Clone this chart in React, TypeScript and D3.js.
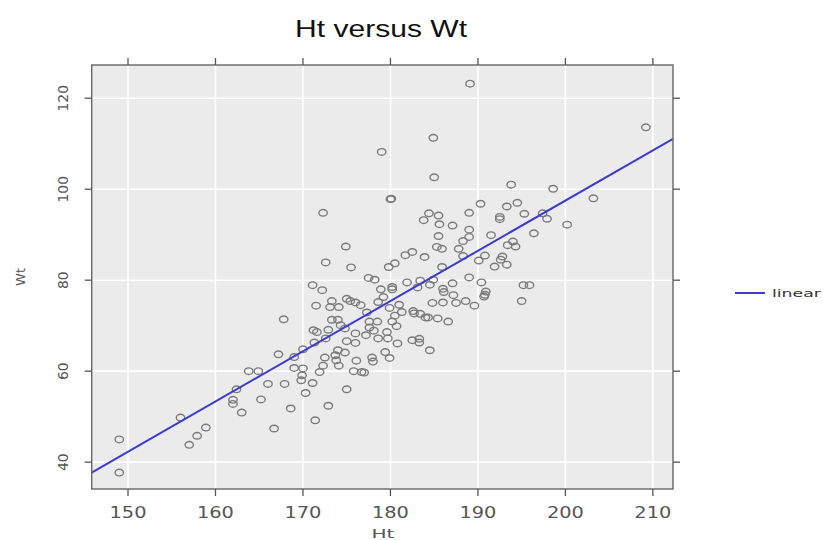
import React from "react";
import * as d3 from "d3";

const xTicks = [150, 160, 170, 180, 190, 200, 210];
const yTicks = [40, 60, 80, 100, 120];

const ht = [
  189.1, 209.2, 184.9, 179.0, 185.0, 193.8, 198.6, 180.0, 180.1, 203.2,
  190.3, 194.5, 193.3, 172.3, 184.4, 185.5, 189.0, 195.3, 197.4, 183.8,
  192.5, 192.5, 197.9, 185.6, 187.1, 200.2, 189.0, 191.5, 196.4, 189.0,
  185.5, 188.3, 194.0, 174.9, 185.3, 185.9, 187.8, 193.4, 194.3, 182.5,
  181.7, 183.9, 188.3, 190.8, 192.8, 192.6, 190.1, 193.3, 191.9, 172.6,
  175.5, 179.8, 180.5, 185.9, 177.5, 178.2, 189.0, 171.1, 172.2, 181.9,
  183.4, 184.9, 183.1, 184.5, 187.1, 190.4, 195.2, 195.9, 180.2, 180.2,
  178.9, 186.0, 186.1, 187.2, 190.9, 190.8, 190.7, 179.2, 175.0, 173.3,
  175.4, 176.0, 176.6, 178.6, 181.0, 184.8, 186.0, 187.5, 188.6, 189.6,
  195.0, 171.5, 173.1, 174.1, 179.9, 182.6, 181.3, 182.7, 177.3, 180.5,
  183.4, 184.0, 185.4, 186.6, 184.3, 167.8, 173.3, 174.0, 177.6, 178.5,
  180.2, 180.7, 171.2, 171.6, 172.9, 174.3, 174.8, 177.6, 178.1, 179.6,
  176.0, 177.2, 178.6, 179.7, 171.3, 172.6, 175.0, 176.0, 180.8, 182.5,
  183.3, 183.3, 170.0, 167.2, 174.0, 174.8, 173.7, 184.5, 179.4, 169.0,
  172.5, 177.9, 179.9, 173.8, 176.1, 178.0, 172.3, 174.1, 169.0, 170.0,
  171.9, 175.8, 176.7, 177.0, 163.8, 164.9, 169.9, 169.8, 171.1, 166.0,
  167.9, 162.4, 175.0, 170.3, 162.0, 165.2, 162.0, 172.9, 168.6, 163.0,
  156.0, 171.4, 166.7, 158.9, 157.9, 149.0, 157.0, 149.0,
];

const wt = [
  123.2, 113.6, 111.3, 108.2, 102.6, 101.0, 100.1, 97.8, 97.9, 98.0,
  96.8, 97.0, 96.2, 94.8, 94.7, 94.2, 94.8, 94.6, 94.7, 93.2,
  93.9, 93.4, 93.5, 92.3, 92.0, 92.2, 91.1, 89.9, 90.3, 89.5,
  89.7, 88.6, 88.5, 87.4, 87.3, 86.9, 86.9, 87.7, 87.4, 86.2,
  85.5, 85.1, 85.3, 85.4, 85.2, 84.5, 84.3, 83.4, 83.0, 83.9,
  82.8, 82.9, 83.7, 82.9, 80.5, 80.1, 80.6, 78.9, 77.8, 79.5,
  79.9, 80.1, 78.4, 79.0, 79.3, 79.5, 78.9, 78.9, 78.5, 78.0,
  78.0, 78.1, 77.4, 76.7, 77.5, 76.8, 76.4, 76.3, 75.9, 75.4,
  75.4, 75.1, 74.5, 75.2, 74.6, 75.0, 75.1, 75.0, 75.4, 74.4,
  75.4, 74.4, 74.1, 74.1, 73.9, 73.2, 73.0, 72.7, 72.9, 72.2,
  72.6, 71.8, 71.6, 70.9, 71.8, 71.4, 71.3, 71.3, 70.9, 70.9,
  70.9, 69.9, 69.0, 68.6, 69.1, 70.1, 69.4, 69.6, 68.9, 68.6,
  68.3, 67.9, 67.2, 67.2, 66.3, 67.2, 66.6, 66.2, 66.1, 66.8,
  67.1, 66.3, 64.8, 63.7, 64.6, 64.1, 63.5, 64.6, 64.2, 63.1,
  63.0, 63.0, 62.9, 62.4, 62.3, 62.1, 61.2, 61.2, 60.7, 60.6,
  59.8, 60.0, 59.8, 59.7, 60.0, 60.0, 59.1, 58.0, 57.4, 57.2,
  57.2, 56.0, 56.0, 55.2, 53.7, 53.8, 52.8, 52.4, 51.8, 50.9,
  49.8, 49.2, 47.4, 47.6, 45.8, 45.0, 43.8, 37.7,
];

const fitIntercept = -123.3;
const fitSlope = 1.104;
const legendLabels = ["linear"];

export default function App() {
  const left = 91.7, right = 673, top = 65, bottom = 489;
  const x = d3.scaleLinear().domain([145.85, 212.3]).range([left, right]);
  const y = d3.scaleLinear().domain([34.1, 127.3]).range([bottom, top]);
  const [x0, x1] = x.domain();
  const lineGen = d3.line<number>().x((d) => x(d)).y((d) => y(fitIntercept + fitSlope * d));
  const tickColor = "#555";
  const font = "DejaVu Sans, sans-serif";

  return (
    <div style={{ position: "absolute", left: 0, top: 0 }}>
      <svg width={823} height={540} style={{ display: "block", background: "#fff" }}>
        <defs>
          <clipPath id="panel">
            <rect x={left} y={top} width={right - left} height={bottom - top} />
          </clipPath>
        </defs>
        <text x={381} y={37} textAnchor="middle" fontFamily="Liberation Sans, Arial, sans-serif" fontSize={24} fill="#111" textLength={172} lengthAdjust="spacingAndGlyphs">Ht versus Wt</text>
        <rect x={left} y={top} width={right - left} height={bottom - top} fill="#ebebeb" />
        {xTicks.map((t) => (
          <line key={"gx" + t} x1={x(t)} x2={x(t)} y1={top} y2={bottom} stroke="#fff" strokeWidth={1.6} />
        ))}
        {yTicks.map((t) => (
          <line key={"gy" + t} x1={left} x2={right} y1={y(t)} y2={y(t)} stroke="#fff" strokeWidth={1.6} />
        ))}
        <g clipPath="url(#panel)">
          {ht.map((h, i) => (
            <ellipse key={i} cx={x(h)} cy={y(wt[i])} rx={4.2} ry={3.3} fill="none" stroke="#7a7a7a" strokeWidth={1.4} />
          ))}
          <path d={lineGen([x0, x1]) || ""} stroke="#3b3bcc" strokeWidth={2} fill="none" />
        </g>
        <rect x={left} y={top} width={right - left} height={bottom - top} fill="none" stroke="#666" strokeWidth={1.4} />
        {xTicks.map((t) => (
          <g key={"tx" + t}>
            <line x1={x(t)} x2={x(t)} y1={bottom} y2={bottom + 7} stroke={tickColor} strokeWidth={1.3} />
            <line x1={x(t)} x2={x(t)} y1={top} y2={top - 7} stroke={tickColor} strokeWidth={1.3} />
            <text x={x(t)} y={518} textAnchor="middle" fontFamily={font} fontSize={15} fill="#555" textLength={37} lengthAdjust="spacingAndGlyphs">{t}</text>
          </g>
        ))}
        {yTicks.map((t) => (
          <g key={"ty" + t}>
            <line x1={left} x2={left - 7} y1={y(t)} y2={y(t)} stroke={tickColor} strokeWidth={1.3} />
            <line x1={right} x2={right + 7} y1={y(t)} y2={y(t)} stroke={tickColor} strokeWidth={1.3} />
            <text transform={`translate(68,${y(t)}) rotate(-90)`} textAnchor="middle" fontFamily={font} fontSize={14} fill="#555">{t}</text>
          </g>
        ))}
        <text x={383} y={538} textAnchor="middle" fontFamily={font} fontSize={13} fill="#555" textLength={23} lengthAdjust="spacingAndGlyphs">Ht</text>
        <text transform="translate(25,277) rotate(-90)" textAnchor="middle" fontFamily={font} fontSize={13} fill="#555">Wt</text>
        {legendLabels.map((l) => (
          <g key={l}>
            <line x1={735} x2={765} y1={293} y2={293} stroke="#3b3bcc" strokeWidth={2} />
            <text x={772} y={297} fontFamily={font} fontSize={11} fill="#333" textLength={49} lengthAdjust="spacingAndGlyphs">{l}</text>
          </g>
        ))}
      </svg>
    </div>
  );
}
